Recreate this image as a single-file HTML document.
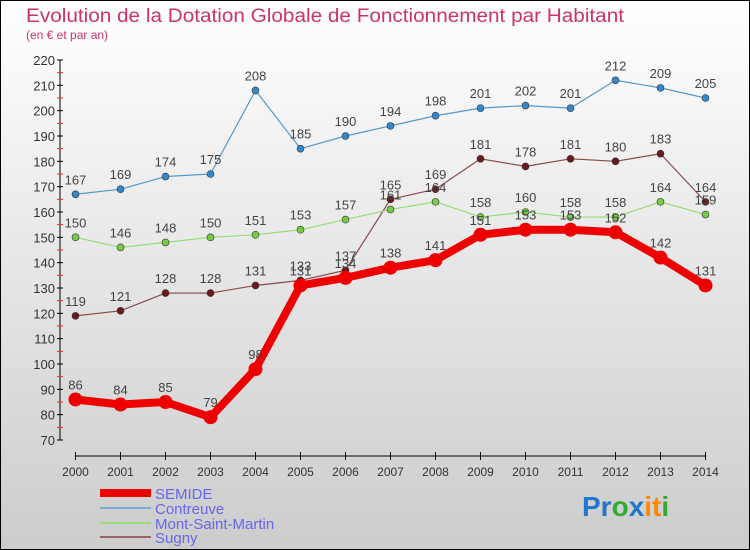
<!DOCTYPE html>
<html><head><meta charset="utf-8"><style>
body{margin:0;width:750px;height:550px;overflow:hidden}
svg{display:block;font-family:"Liberation Sans",sans-serif}
</style></head><body>
<svg id="c" width="750" height="550">
<defs><linearGradient id="bg" x1="0" y1="0" x2="0" y2="1"><stop offset="0" stop-color="#ffffff"/><stop offset="1" stop-color="#cccccc"/></linearGradient></defs>
<rect x="0.5" y="0.5" width="749" height="549" fill="url(#bg)" stroke="#000"/>
<text x="26" y="22" font-size="19" fill="#cc3366" textLength="598" lengthAdjust="spacingAndGlyphs">Evolution de la Dotation Globale de Fonctionnement par Habitant</text>
<text x="26" y="39" font-size="12" fill="#cc3366">(en € et par an)</text>
<g id="axes"></g><g id="series"></g>
<g>
<line x1="100" y1="493" x2="151" y2="493" stroke="#ee0000" stroke-width="8"/>
<text x="155" y="499" font-size="15" fill="#6666ee">SEMIDE</text>
<line x1="100" y1="508" x2="151" y2="508" stroke="#7aaed0" stroke-width="2"/>
<text x="155" y="514" font-size="15" fill="#6666ee">Contreuve</text>
<line x1="100" y1="523" x2="151" y2="523" stroke="#99dd77" stroke-width="2"/>
<text x="155" y="529" font-size="15" fill="#6666ee">Mont-Saint-Martin</text>
<line x1="100" y1="537" x2="151" y2="537" stroke="#996666" stroke-width="2"/>
<text x="155" y="543" font-size="15" fill="#6666ee">Sugny</text>
</g>
<g font-size="28" font-weight="bold">
<text x="582" y="516"><tspan fill="#2277cc">Pr</tspan><tspan fill="#33aa33">o</tspan><tspan fill="#2277cc">x</tspan><tspan fill="#ff8800">it</tspan><tspan fill="#33aa33">i</tspan></text>
</g>
</svg>
<script>
const years=[2000,2001,2002,2003,2004,2005,2006,2007,2008,2009,2010,2011,2012,2013,2014];
const yTicks=[70,80,90,100,110,120,130,140,150,160,170,180,190,200,210,220];
const semide=[86,84,85,79,98,131,134,138,141,151,153,153,152,142,131];
const contreuve=[167,169,174,175,208,185,190,194,198,201,202,201,212,209,205];
const montSaintMartin=[150,146,148,150,151,153,157,161,164,158,160,158,158,164,159];
const sugny=[119,121,128,128,131,133,137,165,169,181,178,181,180,183,164];
const NS="http://www.w3.org/2000/svg";
const X=i=>75.5+i*(705.5-75.5)/(years.length-1);
const Y=v=>60+(220-v)*(380/150);
function mk(tag,attrs,parent){const e=document.createElementNS(NS,tag);for(const k in attrs)e.setAttribute(k,attrs[k]);parent.appendChild(e);return e;}
const ax=document.getElementById('axes');
let l=mk('line',{x1:60,y1:60,x2:60,y2:440,stroke:'#000'},ax);


yTicks.forEach(v=>{
  mk('line',{x1:57,y1:Y(v),x2:63,y2:Y(v),stroke:'#000'},ax);
  if(v<220) mk('line',{x1:57,y1:Y(v+5),x2:63,y2:Y(v+5),stroke:'#e03030'},ax);
  const t=mk('text',{x:55,y:Y(v)+5,'font-size':13,fill:'#333','text-anchor':'end'},ax);
  t.textContent=v;
  
  
});
l=mk('line',{x1:75.5,y1:456,x2:705.5,y2:456,stroke:'#000'},ax);


years.forEach((y,i)=>{
  mk('line',{x1:X(i),y1:452,x2:X(i),y2:460,stroke:'#000'},ax);
  const t=mk('text',{x:X(i),y:476,'font-size':12,fill:'#333','text-anchor':'middle'},ax);
  t.textContent=y;
  
  
});
const sg=document.getElementById('series');
function draw(data,name,color,dot,w,r){
  const g=mk('g',{},sg);
  
  
  const p=mk('polyline',{points:data.map((v,i)=>X(i)+','+Y(v)).join(' '),fill:'none',stroke:color,'stroke-width':w,'stroke-linejoin':'round'},g);
  
  
  data.forEach((v,i)=>{
    const c=mk('circle',{cx:X(i),cy:Y(v),r:r,fill:dot,stroke:'#333','stroke-width':r>5?0:0.6},g);
    
    
    const t=mk('text',{x:X(i),y:Y(v)-10,'font-size':13,fill:'#444','text-anchor':'middle'},g);
    t.textContent=v;
    
    
  });
}
draw(sugny,'sugny','#8a4a4a','#6a1a1a',1.2,3.5);
draw(montSaintMartin,'mont-saint-martin','#99dd77','#77cc44',1.2,3.5);
draw(contreuve,'contreuve','#5599cc','#3388cc',1.2,3.5);
draw(semide,'semide','#ee0000','#ee0000',8,7);
</script>
</body></html>
